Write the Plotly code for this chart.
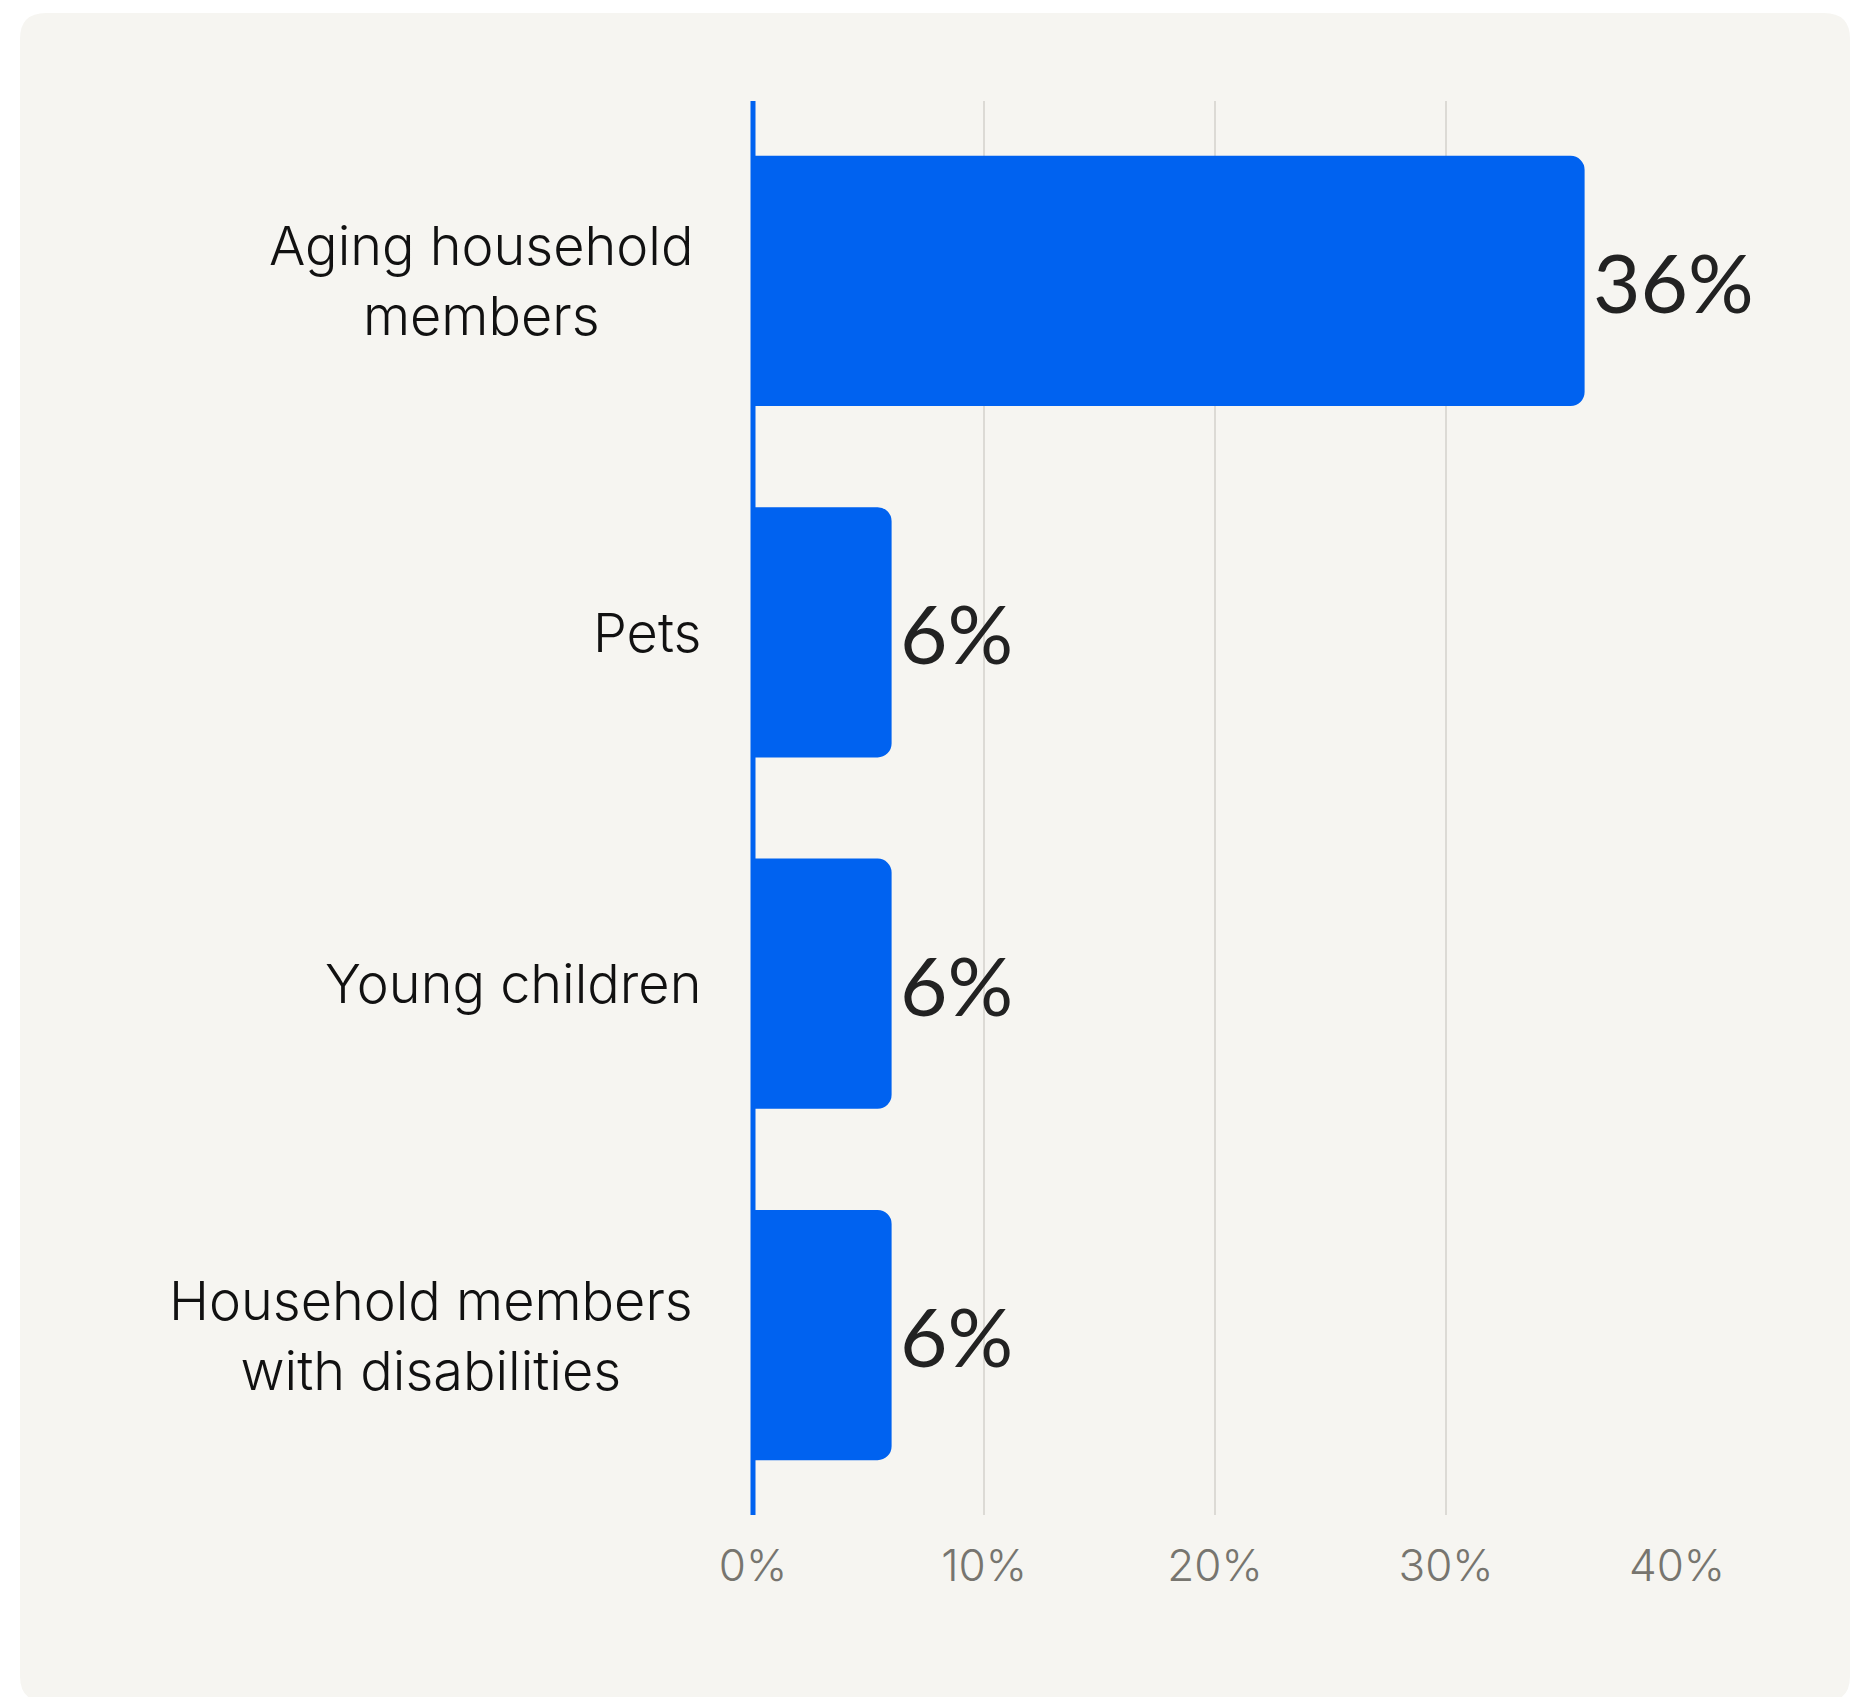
import plotly.graph_objects as go

# Survey results: share of respondents by household care concern
categories = [
    "Aging household members",
    "Pets",
    "Young children",
    "Household members with disabilities",
]
category_labels = [
    "Aging household<br>members",
    "Pets",
    "Young children",
    "Household members<br>with disabilities",
]
values = [36, 6, 6, 6]
x_ticks = [0, 10, 20, 30, 40]
x_tick_labels = ["0%", "10%", "20%", "30%", "40%"]

W, H = 1870, 1697
M_L, M_R, M_T, M_B = 753, 193, 101, 182
PW, PH = W - M_L - M_R, H - M_T - M_B

FONT = "Inter, Lato, 'Noto Sans', sans-serif"
VALUE_FONT = "Lato, 'Noto Sans', sans-serif"
BLUE = "#0062F0"
CARD = "#F6F5F1"


def px_x(px):
    return (px - M_L) / PW


def px_y(py):
    return (H - M_B - py) / PH


def rounded_rect(x0, y0, x1, y1, r):
    # Rounded rectangle path in paper units, given pixel corners
    rx, ry = r / PW, r / PH
    X0, X1 = px_x(x0), px_x(x1)
    Yt, Yb = px_y(y0), px_y(y1)
    return (
        f"M {X0 + rx},{Yt} L {X1 - rx},{Yt} Q {X1},{Yt} {X1},{Yt - ry} "
        f"L {X1},{Yb + ry} Q {X1},{Yb} {X1 - rx},{Yb} "
        f"L {X0 + rx},{Yb} Q {X0},{Yb} {X0},{Yb + ry} "
        f"L {X0},{Yt - ry} Q {X0},{Yt} {X0 + rx},{Yt} Z"
    )


fig = go.Figure(
    go.Bar(
        x=values,
        y=categories,
        orientation="h",
        marker=dict(color=BLUE, cornerradius=14, line=dict(width=0)),
        cliponaxis=False,
        hoverinfo="skip",
    )
)

# value labels just past the end of each bar
for cat, val in zip(categories, values):
    fig.add_annotation(
        x=val,
        y=cat,
        xref="x",
        yref="y",
        text=f"{val}%",
        showarrow=False,
        xanchor="left",
        yanchor="middle",
        xshift=6,
        font=dict(family=VALUE_FONT, size=82, color="#222222"),
    )

# category labels, centred as a block to the left of the axis
for cat, lab in zip(categories, category_labels):
    wrapped = "<br>" in lab
    fig.add_annotation(
        x=0,
        y=cat,
        xref="x",
        yref="y",
        text=lab,
        showarrow=False,
        xanchor="right",
        yanchor="middle",
        align="center",
        xshift=-58 if wrapped else -50,
        font=dict(family=FONT, size=54, color="#111111", weight=300),
    )

# card background
fig.add_shape(
    type="path",
    path=rounded_rect(20, 13, 1850, 1702, 26),
    xref="paper",
    yref="paper",
    fillcolor=CARD,
    line=dict(width=0),
    layer="below",
)

# blue baseline along the left edge of the plot (x = 0%)
fig.add_shape(
    type="line",
    x0=0,
    x1=0,
    xref="paper",
    y0=0,
    y1=1,
    yref="paper",
    line=dict(color=BLUE, width=5),
    layer="above",
)

fig.update_layout(
    width=W,
    height=H,
    margin=dict(l=M_L, r=M_R, t=M_T, b=M_B, pad=0),
    paper_bgcolor="white",
    plot_bgcolor="rgba(0,0,0,0)",
    bargap=0.288,
    showlegend=False,
    font=dict(family=FONT),
    xaxis=dict(
        range=[0, 40],
        tickvals=x_ticks,
        ticktext=x_tick_labels,
        tickfont=dict(family=FONT, size=44, color="#77756F", weight=300),
        showgrid=True,
        gridcolor="#DCDAD5",
        gridwidth=2,
        zeroline=False,
        showline=False,
        ticks="",
        ticklabelstandoff=21,
        fixedrange=True,
    ),
    yaxis=dict(
        categoryorder="array",
        categoryarray=categories,
        range=[3.512, -0.512],
        showticklabels=False,
        showgrid=False,
        zeroline=False,
        showline=False,
        ticks="",
        fixedrange=True,
    ),
)

fig.write_html("out.html")
